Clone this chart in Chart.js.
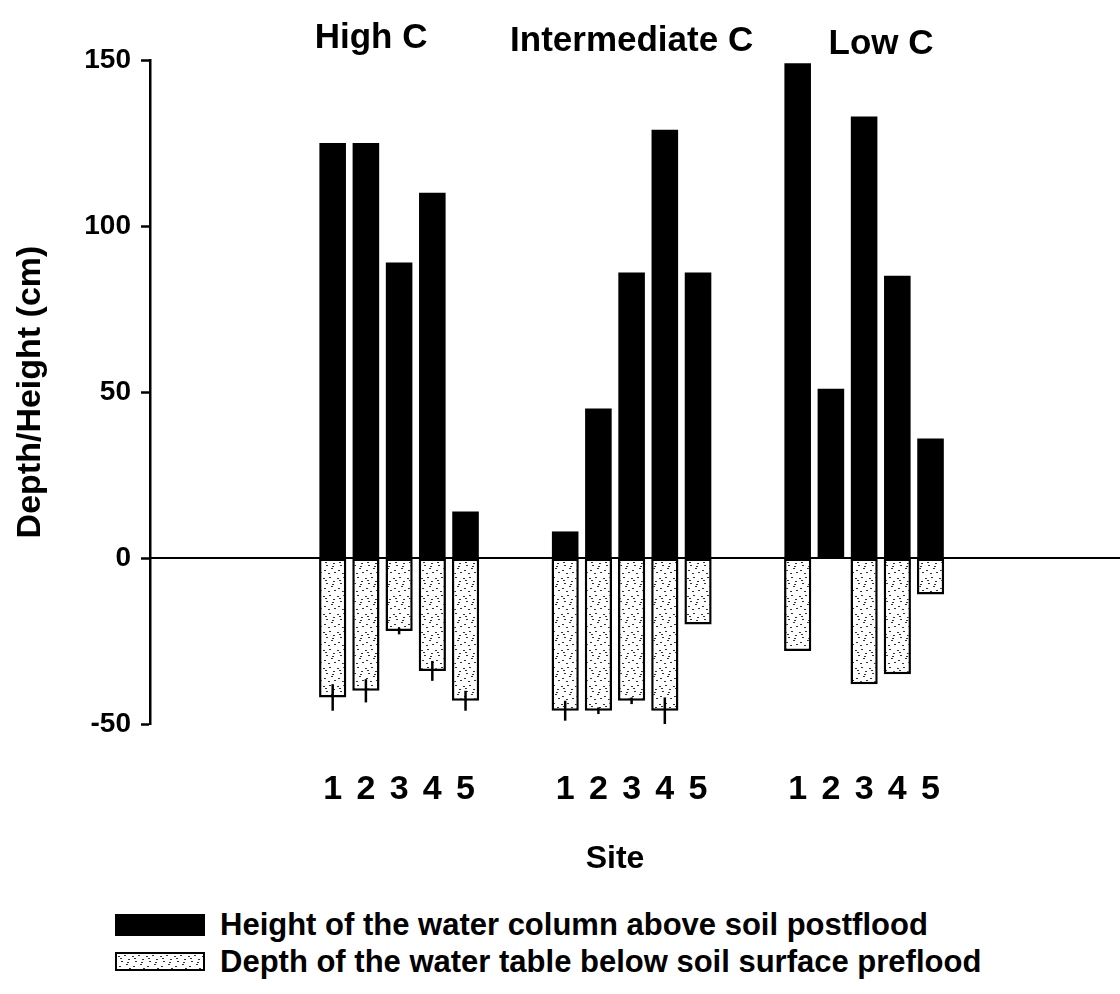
<!DOCTYPE html>
<html>
<head>
<meta charset="utf-8">
<script src="https://cdn.jsdelivr.net/npm/chart.js@4/dist/chart.umd.min.js"></script>
<style>
  body { margin: 0; background: #fff; font-family: "Liberation Sans", Arial, sans-serif; }
  #wrap { position: relative; width: 1120px; height: 890px; }
  #chartLegend { list-style: none; margin: 16px 0 0 0; padding: 0 0 0 115px; }
  #chartLegend li { display: flex; align-items: center; height: 37px; font-weight: bold; font-size: 31px; color: #000; }
  #chartLegend li span { display: inline-block; width: 90px; margin-right: 15px; box-sizing: border-box; }
</style>
</head>
<body>
<div id="wrap"><canvas id="myChart"></canvas></div>
<ul id="chartLegend"></ul>
<script>
// Sites per carbon group
const groups = ['High C', 'Intermediate C', 'Low C'];
const sites = ['1', '2', '3', '4', '5'];

// cm, in site order High 1-5, Intermediate 1-5, Low 1-5
const heightPostflood = [125, 125, 89, 110, 14, 8, 45, 86, 129, 86, 149, 51, 133, 85, 36];
const depthPreflood = [-42, -40, -22, -34, -43, -46, -46, -43, -46, -20, -28, 0, -38, -35, -11];
const depthError = [4, 3.5, 1, 3, 3, 3, 1, 1, 4, 0, 0, 0, 0, 0, 0];

const yTicks = [-50, 0, 50, 100, 150];

const legendNames = [
    'Height of the water column above soil postflood',
    'Depth of the water table below soil surface preflood'
];

// empty slots before, between and after the groups
const LEAD = 5, GAP = 2, TRAIL = 4;

var labels = [];
var postData = [];
var preData = [];
var errData = [];
var groupSlots = [];

function pad(n) {
    for (var k = 0; k < n; k++) {
        labels.push('');
        postData.push(null);
        preData.push(null);
        errData.push(0);
    }
}

pad(LEAD);
groups.forEach(function(g, gi) {
    if (gi > 0) pad(GAP);
    var slots = [];
    sites.forEach(function(s, si) {
        var i = gi * sites.length + si;
        slots.push(labels.length);
        labels.push(s);
        postData.push(heightPostflood[i]);
        preData.push(depthPreflood[i]);
        errData.push(depthError[i]);
    });
    groupSlots.push(slots);
});
pad(TRAIL);

// speckled fill for the preflood bars
function makeStipple() {
    var c = document.createElement('canvas');
    c.width = 14; c.height = 18;
    var x = c.getContext('2d');
    x.fillStyle = '#fff';
    x.fillRect(0, 0, 14, 18);
    x.fillStyle = '#333';
    var dots = [[1, 2], [7, 1], [11, 5], [4, 7], [9, 10], [2, 12], [12, 14], [6, 15], [3, 4], [10, 8]];
    dots.forEach(function(d) { x.fillRect(d[0], d[1], 2, 1); });
    return c;
}
var stippleCanvas = makeStipple();
var ctx = document.getElementById('myChart').getContext('2d');
var stipple = ctx.createPattern(stippleCanvas, 'repeat');

const FONT = '"Liberation Sans", Arial, sans-serif';

// zero line runs across to the right edge of the canvas
var zeroLine = {
    id: 'zeroLine',
    beforeDatasetsDraw: function(chart) {
        var c = chart.ctx;
        var y0 = chart.scales.y.getPixelForValue(0);
        c.save();
        c.strokeStyle = '#000';
        c.lineWidth = 2;
        c.beginPath();
        c.moveTo(chart.chartArea.left, y0);
        c.lineTo(chart.width, y0);
        c.stroke();
        c.restore();
    }
};

// error whiskers on the preflood depth bars
var errorBars = {
    id: 'errorBars',
    afterDatasetsDraw: function(chart) {
        var meta = chart.getDatasetMeta(1);
        var y = chart.scales.y;
        var c = chart.ctx;
        c.save();
        c.strokeStyle = '#000';
        c.lineWidth = 2.5;
        meta.data.forEach(function(bar, i) {
            var e = errData[i];
            if (!e || preData[i] === null) return;
            c.beginPath();
            c.moveTo(bar.x, y.getPixelForValue(preData[i] + e));
            c.lineTo(bar.x, y.getPixelForValue(preData[i] - e));
            c.stroke();
        });
        c.restore();
    }
};

// group names above each set of sites
var groupTitles = {
    id: 'groupTitles',
    afterDraw: function(chart) {
        var c = chart.ctx;
        var meta = chart.getDatasetMeta(0);
        var nudge = [-28, 0, 17];
        c.save();
        c.fillStyle = '#000';
        c.font = 'bold 35px ' + FONT;
        c.textAlign = 'center';
        c.textBaseline = 'middle';
        groupSlots.forEach(function(slots, gi) {
            var mid = meta.data[slots[2]].x;
            c.fillText(groups[gi], mid + nudge[gi], 38 + gi * 3);
        });
        c.restore();
    }
};

var myChart = new Chart(ctx, {
    type: 'bar',
    data: {
        labels: labels,
        datasets: [{
            label: legendNames[0],
            data: postData,
            backgroundColor: '#000',
            borderWidth: 0,
            barPercentage: 0.8,
            categoryPercentage: 1
        }, {
            label: legendNames[1],
            data: preData,
            backgroundColor: stipple,
            borderColor: '#000',
            borderWidth: 2.5,
            borderSkipped: false,
            barPercentage: 0.82,
            categoryPercentage: 1
        }]
    },
    options: {
        responsive: true,
        maintainAspectRatio: false,
        animation: false,
        layout: { padding: { left: 10, top: 60, right: 40, bottom: 12 } },
        plugins: {
            legend: { display: false },
            tooltip: { enabled: false }
        },
        scales: {
            x: {
                stacked: true,
                border: { display: false },
                grid: { display: false, drawTicks: false },
                afterFit: function(scale) { scale.height = 154; },
                ticks: {
                    color: '#000',
                    autoSkip: false,
                    maxRotation: 0,
                    padding: 45,
                    font: { family: FONT, size: 34, weight: 'bold' }
                },
                title: {
                    display: true,
                    text: 'Site',
                    color: '#000',
                    font: { family: FONT, size: 32, weight: 'bold' },
                    padding: { top: 30, bottom: 0 }
                }
            },
            y: {
                stacked: true,
                min: -50,
                max: 150,
                afterBuildTicks: function(scale) {
                    scale.ticks = yTicks.map(function(v) { return { value: v }; });
                },
                afterFit: function(scale) { scale.width = 140; },
                border: { display: true, color: '#000', width: 2.5 },
                grid: {
                    drawOnChartArea: false,
                    tickColor: '#000',
                    tickLength: 9,
                    tickWidth: 2.5
                },
                ticks: {
                    color: '#000',
                    padding: 10,
                    font: { family: FONT, size: 28, weight: 'bold' }
                },
                title: {
                    display: true,
                    text: 'Depth/Height (cm)',
                    color: '#000',
                    font: { family: FONT, size: 34, weight: 'bold' },
                    padding: { top: 0, bottom: 0 }
                }
            }
        }
    },
    plugins: [zeroLine, errorBars, groupTitles]
});

// legend built by hand under the chart
var legendContainer = document.getElementById('chartLegend');
myChart.data.datasets.forEach(function(ds, index) {
    var legendItem = document.createElement('li');
    var colorBox = document.createElement('span');
    if (index === 0) {
        colorBox.style.height = '22px';
        colorBox.style.backgroundColor = '#000';
    } else {
        colorBox.style.height = '19px';
        colorBox.style.border = '2px solid #000';
        colorBox.style.backgroundImage = 'url(' + stippleCanvas.toDataURL() + ')';
    }
    legendItem.appendChild(colorBox);
    legendItem.appendChild(document.createTextNode(ds.label));
    legendContainer.appendChild(legendItem);
});
</script>
</body>
</html>
